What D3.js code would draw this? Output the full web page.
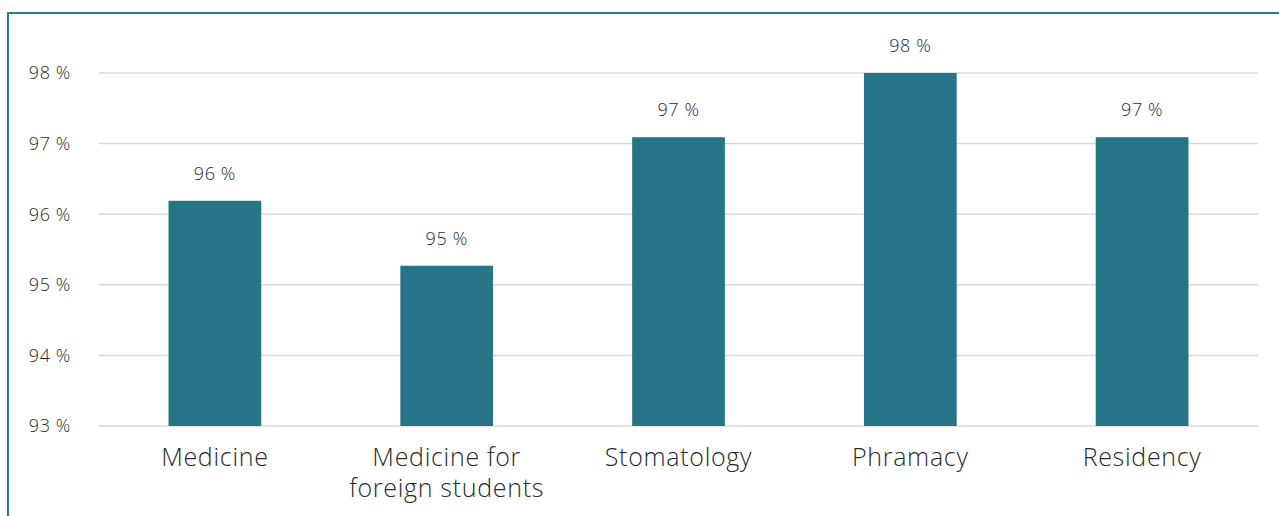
<!DOCTYPE html>
<html>
<head>
<meta charset="utf-8">
<script src="https://cdn.jsdelivr.net/npm/d3@7"></script>
<style>
  body { margin: 0; background: #fff; }
  .tick-label { font-family: "Open Sans", "Noto Sans", sans-serif; font-weight: 300; font-size: 18px; letter-spacing: 0.6px; fill: #2b2b2b; }
  .cat-label { font-family: "Open Sans", "Noto Sans", sans-serif; font-weight: 300; font-size: 25px; letter-spacing: 0.7px; fill: #2b2b2b; }
  .val-label { font-family: "Open Sans", "Noto Sans", sans-serif; font-weight: 300; font-size: 18px; letter-spacing: 0.6px; fill: #2b2b2b; }
</style>
</head>
<body>
<div id="chart"></div>
<script>
// categories (multi-line labels split on "|")
const categories = ["Medicine", "Medicine for|foreign students", "Stomatology", "Phramacy", "Residency"];
const values = [96.19, 95.27, 97.09, 98.0, 97.09];
const valueLabels = ["96 %", "95 %", "97 %", "98 %", "97 %"];
const yTicks = [93, 94, 95, 96, 97, 98];

const W = 1279, H = 516;
const margin = {top: 73, right: 21, bottom: 90, left: 99};
const width = W - margin.left - margin.right;
const height = H - margin.top - margin.bottom;

const svg = d3.select("#chart").append("svg")
    .attr("width", W)
    .attr("height", H);

// frame lines (left and top)
svg.append("line")
    .attr("x1", 8).attr("x2", 8).attr("y1", 12).attr("y2", H)
    .attr("stroke", "#2a7a8b").attr("stroke-width", 2);
svg.append("line")
    .attr("x1", 7).attr("x2", W).attr("y1", 13).attr("y2", 13)
    .attr("stroke", "#2a7a8b").attr("stroke-width", 2);

const g = svg.append("g")
    .attr("transform", `translate(${margin.left},${margin.top})`);

const x = d3.scaleBand()
    .domain(categories)
    .range([0, width])
    .paddingInner(0.6)
    .paddingOuter(0.3);

const y = d3.scaleLinear()
    .domain([93, 98])
    .range([height, 0]);

// gridlines
g.selectAll(".grid")
    .data(yTicks)
    .enter().append("line")
    .attr("class", "grid")
    .attr("x1", 0).attr("x2", width)
    .attr("y1", d => y(d)).attr("y2", d => y(d))
    .attr("stroke", "#d9d9d9").attr("stroke-width", 1.5);

// y tick labels
g.selectAll(".tick-label")
    .data(yTicks)
    .enter().append("text")
    .attr("class", "tick-label")
    .attr("x", -28)
    .attr("y", d => y(d))
    .attr("dy", "0.35em")
    .attr("text-anchor", "end")
    .text(d => d + " %");

// bars
g.selectAll(".bar")
    .data(values)
    .enter().append("rect")
    .attr("class", "bar")
    .attr("x", (d, i) => x(categories[i]))
    .attr("width", x.bandwidth())
    .attr("y", d => y(d))
    .attr("height", d => height - y(d))
    .attr("fill", "#267487");

// value labels
g.selectAll(".val-label")
    .data(values)
    .enter().append("text")
    .attr("class", "val-label")
    .attr("x", (d, i) => x(categories[i]) + x.bandwidth() / 2)
    .attr("y", d => y(d) - 21)
    .attr("text-anchor", "middle")
    .text((d, i) => valueLabels[i]);

// category labels
const cats = g.selectAll(".cat-label")
    .data(categories)
    .enter().append("text")
    .attr("class", "cat-label")
    .attr("x", d => x(d) + x.bandwidth() / 2)
    .attr("y", height + 40)
    .attr("text-anchor", "middle");

cats.selectAll("tspan")
    .data(d => d.split("|").map(s => ({s, cx: x(d) + x.bandwidth() / 2})))
    .enter().append("tspan")
    .attr("x", d => d.cx)
    .attr("dy", (d, i) => i === 0 ? 0 : 31)
    .text(d => d.s);
</script>
</body>
</html>
